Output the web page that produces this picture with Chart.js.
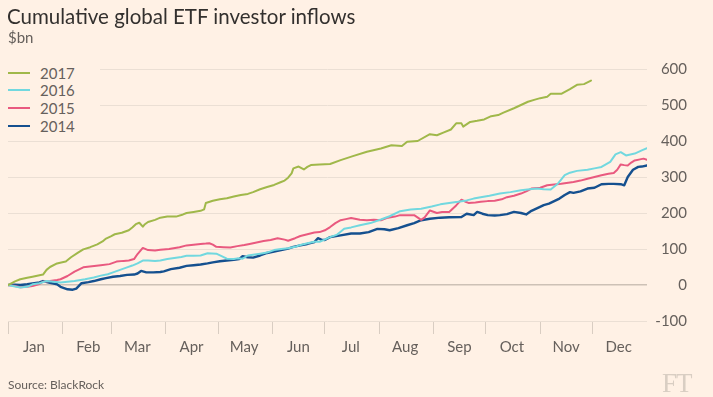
<!DOCTYPE html>
<html>
<head>
<meta charset="utf-8">
<script src="https://cdn.jsdelivr.net/npm/chart.js@4"></script>
<style>
  html, body { margin: 0; padding: 0; background: #fff1e5; }
  #wrap { position: relative; width: 713px; height: 397px; overflow: hidden; background: #fff1e5; font-family: Lato, "Open Sans", sans-serif; }
  #c { position: absolute; left: 0; top: 0; }
  .title { position: absolute; left: 7px; top: 3px; font-size: 20.5px; color: #33302e; white-space: nowrap; line-height: 26px; }
  .sub { position: absolute; left: 8px; top: 28px; font-size: 15px; color: #66605c; line-height: 18px; }
  #legend { position: absolute; left: 0; top: 62px; width: 100px; height: 74px; background: #fff1e5; }
  .lrow { position: absolute; left: 0; height: 18px; width: 100px; }
  .lline { position: absolute; left: 8px; top: 8px; width: 22px; height: 2px; }
  .ltext { position: absolute; left: 40px; top: 0; font-size: 15px; line-height: 18px; color: #66605c; }
  .source { position: absolute; left: 8px; top: 377px; font-size: 12px; color: #66605c; line-height: 15px; }
  .ft { position: absolute; left: 662px; top: 370px; font-family: "Liberation Serif", "DejaVu Serif", serif; font-size: 27px; color: #d9cec3; line-height: 27px; letter-spacing: -1px; }
</style>
</head>
<body>
<div id="wrap">
  <canvas id="c" width="713" height="397"></canvas>
  <div class="title">Cumulative global ETF investor inflows</div>
  <div class="sub">$bn</div>
  <div id="legend"></div>
  <div class="source">Source: BlackRock</div>
  <div class="ft">FT</div>
</div>
<script>
const months = ['Jan','Feb','Mar','Apr','May','Jun','Jul','Aug','Sep','Oct','Nov','Dec'];
const monthStarts = [0,31,59,90,120,151,181,212,243,273,304,334];
const yTicks = [-100,0,100,200,300,400,500,600];
const seriesNames = ['2017','2016','2015','2014'];
const seriesColors = ['#a0b84a','#72d8df','#e9597f','#15508f'];

const days2017 = [0,4,7,11,14,18,20,22,24,28,31,33,36,40,43,47,51,54,56,59,61,65,69,71,73,75,77,78,80,84,87,91,96,100,102,106,110,112,113,117,121,125,129,133,137,140,144,148,152,156,158,160,162,163,166,169,171,173,178,184,190,197,205,213,219,225,228,234,241,245,249,253,256,259,260,264,268,272,276,280,283,289,293,297,301,304,308,310,316,321,325,329,333];
const vals2017 = [0,10,16,20,23,27,29,42,50,60,63,65,77,90,99,105,113,121,129,136,141,145,152,160,169,173,162,168,175,181,187,190,190,196,200,203,206,210,228,234,238,241,246,250,253,258,266,272,278,286,290,298,310,324,329,321,328,333,335,336,347,358,370,379,388,386,398,400,419,416,424,432,449,449,440,453,456,460,469,472,479,491,500,509,515,519,523,531,531,544,556,558,568];

const days2016 = [0,4,7,11,14,18,22,26,30,34,38,44,49,53,57,60,64,68,71,74,77,80,84,87,91,95,99,102,106,110,114,119,122,125,129,131,134,137,141,144,148,152,156,160,164,167,171,175,178,184,188,190,192,196,201,207,213,218,224,230,236,242,247,252,257,262,266,270,275,281,287,293,298,302,306,310,314,318,321,325,331,335,339,344,347,350,353,358,362,365];
const vals2016 = [0,-4,-7,-5,2,5,11,9,7,9,11,16,21,26,30,35,42,49,54,60,68,68,67,68,72,75,78,81,81,82,88,87,80,73,72,74,73,82,85,87,90,97,100,102,106,111,116,120,120,133,140,148,156,160,166,172,182,191,205,210,212,218,224,228,231,235,240,244,248,254,258,263,266,268,266,265,281,305,312,317,320,324,328,342,363,369,360,365,374,380];

const days2015 = [0,4,7,11,14,18,20,24,28,30,34,38,43,48,53,58,62,66,69,72,74,77,80,84,87,92,98,102,106,110,113,115,117,119,123,127,131,135,138,142,146,150,154,158,160,164,167,171,175,178,181,184,187,190,193,196,201,205,209,213,217,221,224,228,232,236,238,241,245,248,252,256,259,261,263,267,270,274,278,282,285,289,293,296,299,304,308,312,316,320,323,327,331,335,339,343,346,348,350,352,354,356,358,361,363,365];
const vals2015 = [0,-3,-6,-5,-3,3,9,11,14,16,25,37,49,52,55,58,65,67,68,72,86,103,97,96,98,100,105,110,112,114,115,116,112,106,105,104,108,111,114,118,122,125,130,126,123,130,136,141,146,147,152,161,172,180,183,186,181,180,181,180,187,190,194,194,194,181,188,207,200,203,203,221,237,232,228,229,231,233,234,238,244,248,254,260,268,270,277,279,281,284,286,290,295,300,305,309,311,320,335,333,332,340,346,349,351,348];

const days2014 = [0,4,7,11,14,18,20,24,28,30,34,37,39,42,46,49,53,56,60,64,68,72,74,76,79,83,87,89,93,98,102,106,110,114,117,121,125,129,132,134,137,140,144,148,152,156,160,163,167,171,175,177,179,181,184,190,196,201,206,211,215,218,223,228,232,236,241,247,252,259,262,266,268,271,274,278,281,285,289,293,296,299,303,306,309,312,315,318,321,323,327,331,335,339,343,346,350,352,354,357,360,362,365];
const vals2014 = [0,1,0,2,4,7,11,6,2,-5,-12,-13,-10,5,8,11,16,19,23,25,28,29,32,39,35,35,36,38,44,48,53,55,57,60,63,66,68,70,72,80,77,76,82,89,93,97,101,106,110,114,119,130,126,125,133,138,143,143,147,156,155,152,158,166,172,180,184,187,188,189,198,194,203,198,194,193,194,197,203,200,196,206,215,222,226,233,240,250,258,256,260,268,270,280,281,281,280,277,300,320,328,329,332];

const seriesDays = [days2017, days2016, days2015, days2014];
const seriesVals = [vals2017, vals2016, vals2015, vals2014];

// legend (HTML overlay)
const legend = document.getElementById('legend');
const rowTops = [2, 19, 37, 55];
seriesNames.forEach((name, i) => {
  const row = document.createElement('div');
  row.className = 'lrow';
  row.style.top = rowTops[i] + 'px';
  const ln = document.createElement('div');
  ln.className = 'lline';
  ln.style.background = seriesColors[i];
  const tx = document.createElement('div');
  tx.className = 'ltext';
  tx.textContent = name;
  row.appendChild(ln); row.appendChild(tx);
  legend.appendChild(row);
});

const datasets = seriesNames.map((name, i) => ({
  label: name,
  data: seriesDays[i].map((d, j) => ({ x: d, y: seriesVals[i][j] })),
  borderColor: seriesColors[i],
  borderWidth: i === 3 ? 2.4 : 2,
  pointRadius: 0,
  tension: 0,
  fill: false,
  borderJoinStyle: 'round',
  borderCapStyle: 'round'
}));

new Chart(document.getElementById('c'), {
  type: 'line',
  data: { datasets },
  options: {
    responsive: false,
    animation: false,
    devicePixelRatio: 1,
    layout: { padding: { left: 8, top: 69, right: 26, bottom: 0 } },
    plugins: { legend: { display: false }, tooltip: { enabled: false } },
    scales: {
      x: {
        type: 'linear',
        min: 0,
        max: 365,
        position: 'bottom',
        afterBuildTicks: (s) => { s.ticks = monthStarts.map(v => ({ value: v })); },
        afterFit: (s) => { s.height = 76; s.paddingLeft = 0; s.paddingRight = 0; },
        border: { display: false },
        grid: { drawOnChartArea: false, drawTicks: true, tickLength: 13, color: '#d9cdc2', lineWidth: 1 },
        ticks: {
          autoSkip: false,
          maxRotation: 0,
          minRotation: 0,
          padding: 4,
          labelOffset: 26,
          color: '#66605c',
          font: { family: 'Lato', size: 15 },
          callback: (v, idx) => months[idx] || ''
        }
      },
      y: {
        position: 'right',
        min: -100,
        max: 600,
        afterBuildTicks: (s) => { s.ticks = yTicks.map(v => ({ value: v })); },
        afterFit: (s) => { s.width = 40; s.paddingTop = 0; s.paddingBottom = 0; },
        border: { display: false },
        grid: {
          drawTicks: false,
          color: (ctx) => (ctx.tick && ctx.tick.value === 0) ? '#cdc1b6' : '#ebdfd4',
          lineWidth: (ctx) => (ctx.tick && ctx.tick.value === 0) ? 1.5 : 1
        },
        ticks: {
          crossAlign: 'far',
          padding: 10,
          color: '#66605c',
          font: { family: 'Lato', size: 15 }
        }
      }
    }
  }
});
</script>
</body>
</html>
